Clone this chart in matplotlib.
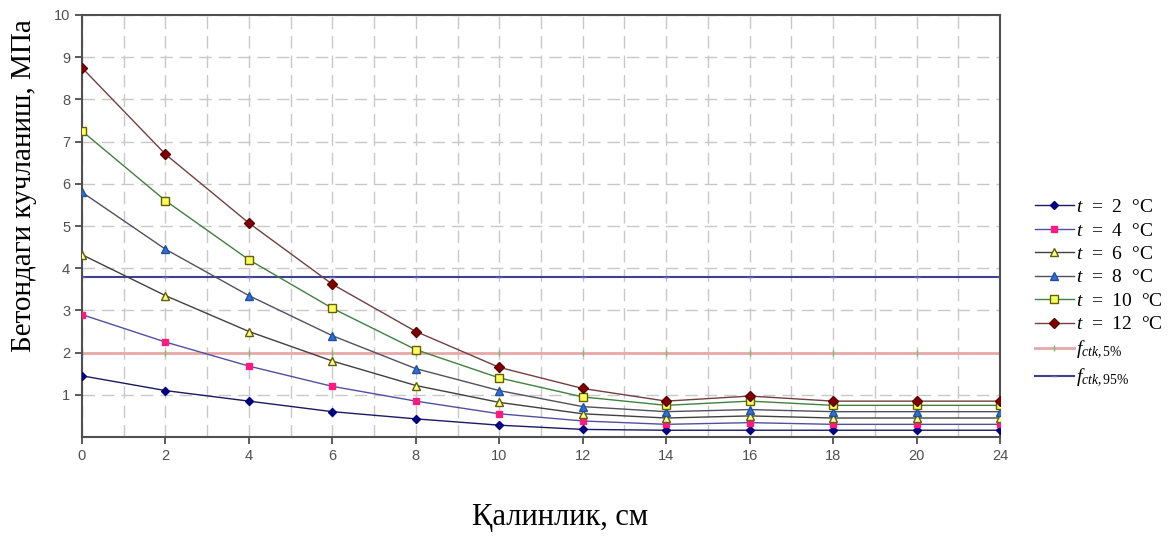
import matplotlib
matplotlib.use("Agg")
import matplotlib.pyplot as plt
import numpy as np

plt.rcParams['mathtext.fontset'] = 'custom'
plt.rcParams['mathtext.rm'] = 'Liberation Serif'
plt.rcParams['mathtext.it'] = 'Liberation Serif:italic'

categories = ["0", "2", "4", "6", "8", "10", "12", "14", "16", "18", "20", "24"]
t2 = [1.45, 1.10, 0.85, 0.60, 0.43, 0.28, 0.18, 0.16, 0.16, 0.16, 0.16, 0.16]
t4 = [2.90, 2.25, 1.68, 1.20, 0.85, 0.55, 0.38, 0.30, 0.34, 0.30, 0.30, 0.30]
t6 = [4.32, 3.35, 2.50, 1.80, 1.22, 0.82, 0.55, 0.45, 0.50, 0.45, 0.45, 0.45]
t8 = [5.80, 4.45, 3.35, 2.40, 1.62, 1.10, 0.72, 0.60, 0.65, 0.60, 0.60, 0.60]
t10 = [7.25, 5.60, 4.20, 3.05, 2.07, 1.40, 0.95, 0.75, 0.85, 0.75, 0.75, 0.75]
t12 = [8.75, 6.70, 5.07, 3.62, 2.50, 1.65, 1.15, 0.85, 0.97, 0.85, 0.85, 0.85]
f5 = [2.0] * len(categories)
f95 = [3.8] * len(categories)
labels = [r"$t$  =  2  °C", r"$t$  =  4  °C", r"$t$  =  6  °C", r"$t$  =  8  °C",
          r"$t$  =  10  °C", r"$t$  =  12  °C", r"$f_{ctk,5\%}$", r"$f_{ctk,95\%}$"]

fig = plt.figure(figsize=(11.73, 5.44), dpi=100)
ax = fig.add_axes([82/1173, 1-437/544, (1000-82)/1173, (437-15)/544])
x = np.arange(len(categories))

styles = [
    (t2, "#1a1a60", dict(marker="D", ms=4, mfc="#000080", mec="#000080")),
    (t4, "#5050a0", dict(marker="s", ms=5, mfc="#ff1a80", mec="#ff1a80")),
    (t6, "#404040", dict(marker="^", ms=6, mfc="#ffff99", mec="#606000")),
    (t8, "#505060", dict(marker="^", ms=6, mfc="#3070d0", mec="#2050a0")),
    (t10, "#408040", dict(marker="s", ms=6, mfc="#ffff60", mec="#606000")),
    (t12, "#704040", dict(marker="D", ms=5, mfc="#800000", mec="#600000")),
]
handles = []
for vals, col, mk in styles:
    h, = ax.plot(x, vals, color=col, lw=1.0, zorder=3, **mk)
    handles.append(h)
h5, = ax.plot(x, f5, color="#e8a8a8", lw=2.0, marker="|", ms=4, mec="#70c070", zorder=2)
h95, = ax.plot(x, f95, color="#404090", lw=1.5, marker="_", ms=4, mec="#6060c0", zorder=2)
handles += [h5, h95]

ax.set_xlim(0, len(categories) - 1)
ax.set_ylim(0, 10)
ax.set_xticks(x)
ax.set_xticklabels(categories)
ax.set_yticks(np.arange(1, 11))
ax.set_xticks(np.arange(0.5, len(categories) - 1, 1.0), minor=True)
gkw = dict(color="#c8c8c8", ls=(0, (9, 5)), lw=1.0)
ax.grid(True, which="both", axis="x", **gkw)
ax.grid(True, which="major", axis="y", **gkw)
ax.tick_params(axis="both", which="minor", length=0)
ax.tick_params(axis="both", which="major", length=5, width=1.2, color="#404040",
               labelsize=10.5, labelcolor="#505050")
for s in ax.spines.values():
    s.set_color("#505050")
    s.set_linewidth(1.5)
for lbl in ax.get_xticklabels() + ax.get_yticklabels():
    lbl.set_fontfamily("Liberation Sans")

fig.text(24/1173, 1-186/544, "Бетондаги кучланиш, МПа", rotation=90, ha="center", va="center",
         fontsize=21, family="Liberation Serif")
fig.text(560/1173, 1-518/544, "Қалинлик, см", ha="center", va="center",
         fontsize=22, family="Liberation Serif")

leg = fig.legend(handles, labels, loc="center left", bbox_to_anchor=(1035/1173, 1-294/544),
                 frameon=False, prop={"family": "Liberation Serif", "size": 14},
                 handlelength=2.0, handletextpad=0.1, labelspacing=0.3, borderaxespad=0,
                 borderpad=0)

fig.savefig("out.png", dpi=100)
